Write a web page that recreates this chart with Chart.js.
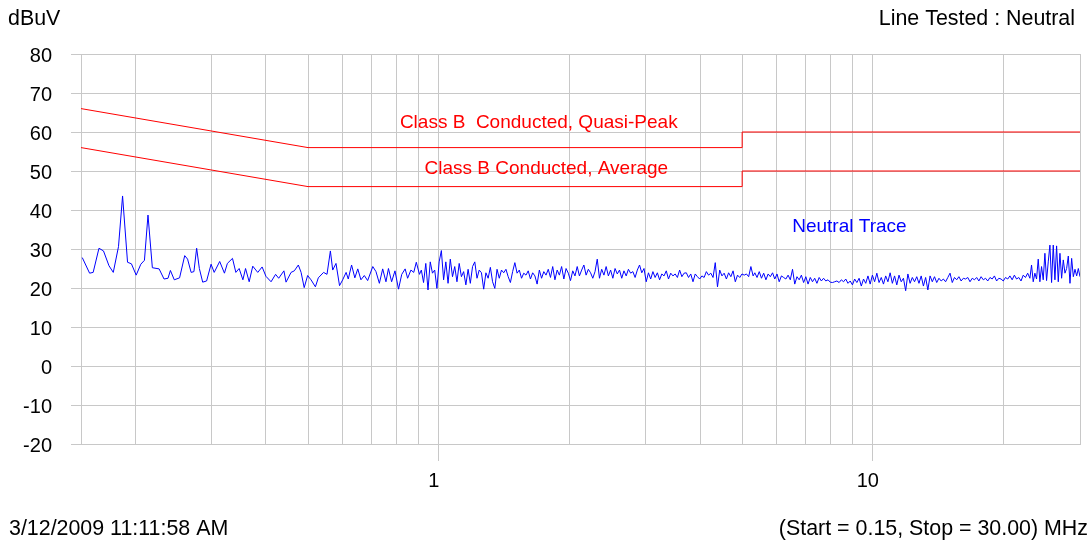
<!DOCTYPE html>
<html>
<head>
<meta charset="utf-8">
<title>Neutral conducted emissions</title>
<script src="https://cdn.jsdelivr.net/npm/chart.js@4.4.0/dist/chart.umd.min.js"></script>
<style>
  body { margin: 0; background: #fff; }
  #wrap { width: 1092px; height: 542px; position: relative; }
</style>
</head>
<body>
<div id="wrap"><canvas id="myChart"></canvas></div>
<script>
// ---- data ----
const xGridMHz = [0.15, 0.2, 0.3, 0.4, 0.5, 0.6, 0.7, 0.8, 0.9, 1, 2, 3, 4, 5, 6, 7, 8, 9, 10, 20, 30];
const xLabelMHz = [1, 10];
const yMin = -20, yMax = 80, yStep = 10;

// CISPR 22 class B limits
const limitFreqMHz = [0.15, 0.5, 5, 5, 30];
const qpLimit = [66, 56, 56, 60, 60];
const avgLimit = [56, 46, 46, 50, 50];

// trace, low band (sparse points, frequencies listed)
const sweepAFreqMHz = [
  0.151, 0.157, 0.160, 0.165, 0.169, 0.174, 0.178, 0.183, 0.187, 0.192,
  0.196, 0.201, 0.206, 0.210, 0.214, 0.219, 0.227, 0.233, 0.238, 0.241,
  0.246, 0.253, 0.260, 0.264, 0.269, 0.273, 0.277, 0.281, 0.286, 0.292,
  0.299, 0.304, 0.313, 0.321, 0.326, 0.335, 0.341, 0.347, 0.354, 0.359,
  0.366, 0.373, 0.383, 0.392, 0.400, 0.411, 0.421, 0.428, 0.440, 0.445,
  0.457, 0.465, 0.475, 0.482, 0.490, 0.499, 0.508, 0.520, 0.528, 0.543,
  0.553, 0.563, 0.570, 0.580, 0.591, 0.601, 0.612, 0.619, 0.630, 0.641,
  0.651, 0.662, 0.674, 0.686, 0.705, 0.717, 0.730, 0.743, 0.756, 0.766,
  0.779, 0.793, 0.808, 0.822, 0.837, 0.848, 0.863, 0.876, 0.888, 0.903
];
const sweepALevel = [
  27.8, 23.8, 24.0, 30.2, 29.5, 25.7, 24.0, 30.6, 43.6, 26.6,
  26.2, 23.3, 26.1, 27.1, 38.7, 25.2, 24.9, 22.3, 22.5, 24.5,
  22.1, 22.6, 28.3, 27.4, 24.0, 24.2, 30.2, 25.0, 21.5, 21.8,
  26.1, 24.0, 26.8, 23.8, 26.3, 27.6, 24.0, 25.0, 22.1, 25.0,
  21.6, 25.6, 24.0, 25.4, 23.0, 21.6, 23.5, 22.5, 24.4, 21.5,
  24.0, 24.4, 25.9, 24.0, 20.1, 23.2, 22.1, 20.3, 22.6, 24.0,
  23.5, 29.5, 24.6, 26.3, 20.6, 22.1, 24.0, 22.3, 25.9, 22.6,
  24.9, 22.1, 23.2, 21.9, 25.5, 24.2, 21.2, 24.9, 21.6, 25.0,
  21.6, 24.4, 19.7, 23.5, 24.9, 22.5, 24.6, 24.0, 26.6, 23.5
];

// trace, upper bands: receiver steps evenly in log frequency inside each band
const bandStartMHz = [0.912, 5.347, 23.2];
const bandStopMHz = [5.299, 23.0, 30.0];
const sweepBLevel = [
  24.6, 21.4, 26.3, 19.5, 26.7, 23.8, 24.6, 19.9, 26.7, 29.6,
  22.1, 26.7, 21.2, 27.4, 22.9, 25.5, 21.6, 26.3, 22.9, 24.2,
  20.8, 24.8, 21.2, 25.5, 26.7, 22.5, 24.6, 23.9, 19.7, 23.9,
  22.5, 25.3, 21.6, 19.9, 24.8, 22.5, 24.6, 23.9, 24.8, 22.9,
  21.4, 24.2, 26.5, 23.8, 24.6, 22.5, 23.8, 23.3, 24.4, 22.3,
  23.9, 23.1, 21.0, 24.6, 22.5, 24.2, 23.3, 24.8, 22.7, 25.5,
  22.1, 24.6, 23.3, 25.5, 22.3, 25.0, 23.8, 21.9, 24.4, 23.1,
  25.5, 23.1, 24.6, 25.9, 23.3, 24.8, 23.9, 22.5, 24.2, 27.4,
  22.5, 24.8, 23.3, 25.5, 23.1, 24.6, 22.5, 25.0, 23.6, 24.6,
  22.5, 24.4, 23.1, 24.8, 23.8, 24.2, 22.7, 24.6, 25.9, 23.9,
  25.0, 21.6, 23.9, 22.3, 24.2, 22.7, 23.9, 22.1, 23.6, 23.1,
  24.4, 22.3, 23.8, 23.1, 23.6, 22.7, 24.6, 22.9, 23.8, 23.9,
  22.7, 23.6, 21.6, 23.6, 22.9, 22.3, 23.1, 22.7, 24.2, 23.3,
  23.8, 22.7, 26.5, 20.3, 24.6, 23.1, 23.8, 22.3, 23.9, 22.9,
  24.4, 21.6, 23.3, 22.7, 23.6, 23.3, 23.6, 22.9, 25.5, 23.1
];
const sweepCLevel = [
  23.9, 22.7, 24.2, 22.5, 23.8, 22.1, 23.6, 22.9, 23.9, 22.3,
  23.6, 21.6, 23.1, 22.7, 22.3, 23.3, 22.1, 24.8, 21.0, 22.9,
  22.1, 23.3, 21.4, 22.9, 21.0, 22.7, 21.6, 22.5, 21.2, 22.7,
  21.8, 22.5, 21.8, 22.1, 21.5, 21.4, 21.6, 21.8, 21.4, 22.1,
  21.6, 22.3, 21.2, 21.8, 20.8, 22.3, 21.4, 22.5, 20.5, 22.3,
  21.2, 23.1, 21.0, 23.3, 21.6, 23.8, 21.4, 22.7, 21.0, 23.1,
  21.6, 23.9, 21.2, 23.1, 20.8, 23.3, 21.6, 22.5, 19.3, 23.6,
  21.2, 22.7, 21.6, 22.9, 21.2, 23.1, 20.5, 22.7, 19.5, 23.1,
  21.6, 22.9, 21.4, 22.5, 21.8, 22.3, 21.6, 22.7, 23.8, 21.4,
  22.7, 22.1, 22.9, 21.8, 22.5, 22.3, 22.7, 21.6, 22.5, 22.1,
  22.7, 21.8, 22.9, 22.1, 22.5, 21.8, 22.7, 22.3, 23.1, 21.8,
  22.5, 22.3, 21.8, 22.7, 22.3, 23.1, 22.1, 23.3, 22.3, 22.7,
  21.8, 23.3, 22.7, 23.8, 22.5
];
const sweepDLevel = [
  25.9, 21.6, 23.8, 22.3, 27.4, 21.6, 25.5, 22.1, 28.9, 21.9,
  26.7, 31.0, 21.4, 31.0, 22.1, 30.8, 21.6, 28.9, 22.5, 27.2,
  23.8, 25.0, 28.2, 21.2, 27.6, 22.9, 24.8, 23.1, 25.0, 22.9
];

const unitLabel = 'dBuV';
const lineTested = 'Line Tested : Neutral';
const timeStamp = '3/12/2009 11:11:58 AM';
const sweepInfo = '(Start = 0.15, Stop = 30.00) MHz';
const qpName = 'Class B  Conducted, Quasi-Peak';
const avgName = 'Class B Conducted, Average';
const traceName = 'Neutral Trace';

// ---- build ----
const FONT = '"Liberation Sans", Arial, sans-serif';
const GRID = '#c8c8c8';
Chart.defaults.font.family = FONT;

const traceData = sweepAFreqMHz.map((f, i) => ({x: f, y: sweepALevel[i]}));
[sweepBLevel, sweepCLevel, sweepDLevel].forEach((levels, b) => {
    const lo = Math.log10(bandStartMHz[b]), hi = Math.log10(bandStopMHz[b]);
    levels.forEach((v, i) => {
        traceData.push({x: Math.pow(10, lo + (hi - lo) * i / (levels.length - 1)), y: v});
    });
});

const textPlugin = {
    id: 'texts',
    afterDraw(chart) {
        const {ctx} = chart;
        const x = chart.scales.x, y = chart.scales.y;
        ctx.save();
        ctx.textBaseline = 'alphabetic';
        ctx.font = '21.4px ' + FONT;
        ctx.fillStyle = '#000';
        ctx.textAlign = 'left';
        ctx.fillText(unitLabel, 8, 25);
        ctx.fillText(timeStamp, 9, 535);
        ctx.textAlign = 'right';
        ctx.fillText(lineTested, 1075, 25);
        ctx.fillText(sweepInfo, 1088, 535);

        ctx.font = '19px ' + FONT;
        ctx.fillStyle = '#ff0000';
        ctx.textAlign = 'center';
        ctx.fillText(qpName, x.getPixelForValue(1.70), y.getPixelForValue(61.0));
        ctx.fillText(avgName, x.getPixelForValue(1.77), y.getPixelForValue(49.2));
        ctx.fillStyle = '#0000ff';
        ctx.textAlign = 'left';
        ctx.fillText(traceName, x.getPixelForValue(6.52), y.getPixelForValue(34.4));
        ctx.restore();
    }
};

const el = document.getElementById('myChart');
theChart = new Chart(el, {
    type: 'line',
    data: {
        datasets: [{
            label: qpName,
            data: limitFreqMHz.map((f, i) => ({x: f, y: qpLimit[i]})),
            borderWidth: 1,
            borderColor: '#ff0000',
            pointRadius: 0
        },
        {
            label: avgName,
            data: limitFreqMHz.map((f, i) => ({x: f, y: avgLimit[i]})),
            borderWidth: 1,
            borderColor: '#ff0000',
            pointRadius: 0
        },
        {
            label: traceName,
            data: traceData,
            borderWidth: 1,
            borderColor: '#0000ff',
            pointRadius: 0
        }]
    },
    options: {
        responsive: true,
        maintainAspectRatio: false,
        animation: false,
        layout: { padding: { top: 54, right: 12, bottom: 48, left: 0 } },
        plugins: { legend: { display: false }, tooltip: { enabled: false } },
        scales: {
            x: {
                type: 'logarithmic',
                min: 0.15,
                max: 30,
                afterBuildTicks: axis => { axis.ticks = xGridMHz.map(v => ({value: v})); },
                afterFit: s => { s.height = 50; },
                ticks: {
                    autoSkip: false,
                    maxRotation: 0,
                    color: '#000',
                    font: { size: 20 },
                    padding: 8,
                    labelOffset: -5,
                    callback: v => xLabelMHz.includes(v) ? String(v) : ''
                },
                grid: {
                    color: GRID,
                    tickLength: 17,
                    tickColor: c => (c.tick && xLabelMHz.includes(c.tick.value)) ? GRID : 'rgba(0,0,0,0)'
                },
                border: { color: GRID }
            },
            y: {
                min: yMin,
                max: yMax,
                afterFit: s => { s.width = 81; },
                ticks: {
                    stepSize: yStep,
                    color: '#000',
                    font: { size: 20 },
                    padding: 19,
                    labelOffset: 2
                },
                grid: { color: GRID, tickLength: 10 },
                border: { color: GRID }
            }
        }
    },
    plugins: [textPlugin]
});
</script>
</body>
</html>
